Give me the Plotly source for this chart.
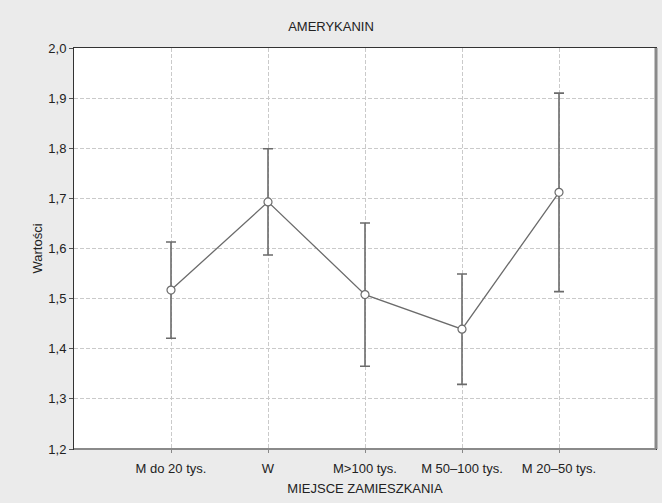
import plotly.graph_objects as go

categories = ["M do 20 tys.", "W", "M>100 tys.", "M 50–100 tys.", "M 20–50 tys."]
means = [1.517, 1.693, 1.508, 1.439, 1.712]
errors = [0.096, 0.106, 0.143, 0.110, 0.198]
y_ticks = [1.2, 1.3, 1.4, 1.5, 1.6, 1.7, 1.8, 1.9, 2.0]

xpos = list(range(len(categories)))
line_col = "#6b6b6b"

fig = go.Figure()
fig.add_trace(go.Scatter(
    x=xpos, y=means, mode="lines+markers",
    line=dict(color=line_col, width=1.3),
    marker=dict(symbol="circle", size=8, color="white",
                line=dict(color=line_col, width=1.2)),
    error_y=dict(type="data", array=errors, visible=True,
                 color=line_col, thickness=1.6, width=5),
    showlegend=False,
))

font_family = "Liberation Sans, Arial, sans-serif"
fig.update_layout(
    width=662, height=503,
    margin=dict(l=74, r=6, t=48, b=54),
    paper_bgcolor="#ebebeb",
    plot_bgcolor="white",
    separators=", ",
    font=dict(family=font_family, size=13, color="#222"),
    title=dict(text="AMERYKANIN", x=0.5, xanchor="center", y=0.948, yanchor="middle",
               font=dict(size=13, color="#222")),
    xaxis=dict(
        range=[-1, 5], tickmode="array", tickvals=xpos, ticktext=categories,
        showgrid=True, gridcolor="#cacaca", griddash="4px,2px", gridwidth=1,
        showline=True, linecolor="#333", linewidth=1, mirror=True,
        ticks="outside", ticklen=3, tickcolor="#888",
        ticklabelstandoff=4,
        tickfont=dict(size=13),
        zeroline=False,
        title=dict(text="MIEJSCE ZAMIESZKANIA", standoff=9, font=dict(size=13)),
    ),
    yaxis=dict(
        range=[1.2, 2.0], tickmode="array", tickvals=y_ticks,
        tickformat=".1f",
        showgrid=True, gridcolor="#cacaca", griddash="4px,2px", gridwidth=1,
        showline=True, linecolor="#333", linewidth=1, mirror=True,
        ticks="outside", ticklen=4, tickcolor="#555",
        tickfont=dict(size=13),
        zeroline=False,
        title=dict(text="Wartości", standoff=2, font=dict(size=13)),
    ),
)

# subtle shadow on the right and bottom frame edges
fig.add_shape(type="line", xref="paper", yref="paper", x0=1, x1=1, y0=0, y1=1,
              line=dict(color="#8a8a8a", width=3))
fig.add_shape(type="line", xref="paper", yref="paper", x0=0, x1=1, y0=0, y1=0,
              line=dict(color="#8a8a8a", width=2))

fig.write_html("out.html", config={"displayModeBar": False},
               post_script="document.body.style.margin='0';")
